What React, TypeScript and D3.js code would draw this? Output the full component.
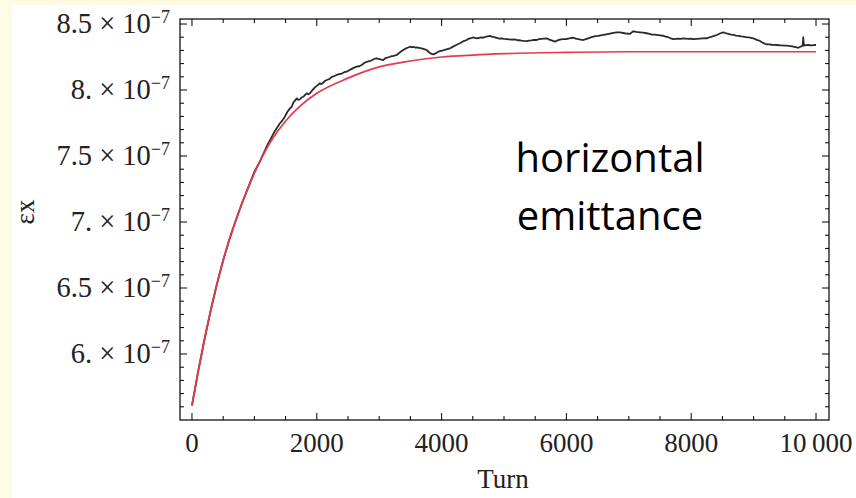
import React from "react";
import * as d3 from "d3";

// Red (fit) curve, emittance in units of 1e-7
const turnsRed = [0, 100, 200, 300, 400, 500, 600, 700, 800, 900, 1000, 1250, 1500, 1750, 2000, 2500, 3000, 3500, 4000, 4500, 5000, 6000, 7000, 8000, 9000, 10000];
const emitRed = [5.61, 5.87, 6.11, 6.33, 6.53, 6.71, 6.87, 7.01, 7.14, 7.26, 7.37, 7.60, 7.765, 7.885, 7.975, 8.09, 8.175, 8.22, 8.25, 8.265, 8.275, 8.285, 8.29, 8.29, 8.29, 8.29];

// Black (simulation) curve, emittance in units of 1e-7
const turnsBlack = [0, 100, 200, 300, 400, 500, 600, 700, 800, 900, 1000, 1100, 1200, 1250, 1330, 1410, 1450, 1490, 1530, 1571, 1600, 1625, 1650, 1678, 1700, 1730, 1760, 1784, 1810, 1840, 1865, 1891, 1930, 1970, 2010, 2051, 2075, 2100, 2130, 2159, 2200, 2240, 2280, 2319, 2360, 2400, 2440, 2479, 2520, 2560, 2600, 2639, 2680, 2720, 2760, 2800, 2840, 2880, 2920, 2960, 2990, 3020, 3066, 3095, 3120, 3150, 3173, 3200, 3230, 3255, 3280, 3305, 3330, 3360, 3386, 3410, 3440, 3465, 3494, 3520, 3550, 3575, 3601, 3640, 3680, 3720, 3761, 3790, 3814, 3840, 3867, 3895, 3920, 3950, 3974, 4010, 4050, 4090, 4135, 4170, 4210, 4250, 4295, 4320, 4350, 4375, 4402, 4430, 4460, 4485, 4508, 4550, 4590, 4630, 4668, 4695, 4720, 4750, 4776, 4800, 4830, 4855, 4883, 4920, 4960, 5000, 5043, 5080, 5120, 5160, 5204, 5240, 5280, 5320, 5364, 5400, 5440, 5480, 5524, 5560, 5600, 5640, 5684, 5715, 5750, 5785, 5817, 5850, 5880, 5915, 5950, 5990, 6030, 6070, 6111, 6150, 6190, 6230, 6271, 6310, 6350, 6390, 6431, 6470, 6510, 6550, 6591, 6640, 6700, 6750, 6806, 6860, 6912, 6960, 7019, 7045, 7072, 7120, 7179, 7230, 7287, 7330, 7370, 7410, 7447, 7500, 7553, 7590, 7630, 7670, 7713, 7750, 7790, 7830, 7873, 7910, 7950, 7990, 8034, 8090, 8140, 8190, 8248, 8290, 8330, 8370, 8409, 8460, 8514, 8560, 8600, 8640, 8675, 8720, 8760, 8800, 8835, 8880, 8920, 8960, 8995, 9025, 9050, 9080, 9103, 9130, 9160, 9185, 9210, 9250, 9290, 9330, 9370, 9410, 9450, 9490, 9530, 9560, 9590, 9615, 9636, 9660, 9680, 9700, 9716, 9750, 9787, 9795, 9805, 9840, 9877, 9910, 9940, 9965, 9984, 10000];
const emitBlack = [5.61, 5.87, 6.11, 6.33, 6.53, 6.71, 6.87, 7.01, 7.14, 7.26, 7.38, 7.47, 7.575, 7.62, 7.69, 7.748, 7.77, 7.80, 7.835, 7.861, 7.875, 7.905, 7.92, 7.937, 7.925, 7.93, 7.945, 7.949, 7.962, 7.975, 7.968, 7.975, 8.0, 8.02, 8.035, 8.051, 8.045, 8.055, 8.068, 8.076, 8.083, 8.10, 8.106, 8.114, 8.12, 8.125, 8.135, 8.139, 8.15, 8.16, 8.17, 8.177, 8.18, 8.19, 8.205, 8.214, 8.218, 8.225, 8.235, 8.240, 8.236, 8.232, 8.227, 8.24, 8.245, 8.248, 8.252, 8.256, 8.258, 8.262, 8.265, 8.275, 8.285, 8.295, 8.303, 8.31, 8.318, 8.322, 8.328, 8.325, 8.326, 8.322, 8.323, 8.32, 8.315, 8.31, 8.303, 8.29, 8.28, 8.274, 8.270, 8.276, 8.282, 8.29, 8.295, 8.298, 8.305, 8.31, 8.316, 8.325, 8.335, 8.345, 8.354, 8.362, 8.37, 8.374, 8.379, 8.388, 8.392, 8.395, 8.399, 8.392, 8.394, 8.398, 8.396, 8.402, 8.405, 8.408, 8.411, 8.404, 8.402, 8.398, 8.396, 8.39, 8.392, 8.388, 8.386, 8.384, 8.382, 8.384, 8.379, 8.377, 8.374, 8.372, 8.371, 8.374, 8.376, 8.38, 8.379, 8.385, 8.388, 8.39, 8.392, 8.384, 8.378, 8.372, 8.366, 8.374, 8.38, 8.383, 8.386, 8.385, 8.39, 8.394, 8.396, 8.39, 8.386, 8.382, 8.379, 8.386, 8.392, 8.398, 8.404, 8.408, 8.41, 8.414, 8.417, 8.422, 8.428, 8.433, 8.437, 8.436, 8.432, 8.428, 8.425, 8.436, 8.445, 8.44, 8.437, 8.434, 8.430, 8.426, 8.42, 8.419, 8.417, 8.414, 8.411, 8.404, 8.40, 8.392, 8.386, 8.388, 8.39, 8.388, 8.392, 8.39, 8.388, 8.39, 8.386, 8.388, 8.39, 8.391, 8.392, 8.398, 8.405, 8.41, 8.417, 8.428, 8.437, 8.43, 8.425, 8.42, 8.417, 8.412, 8.41, 8.406, 8.404, 8.4, 8.398, 8.395, 8.392, 8.385, 8.38, 8.376, 8.371, 8.362, 8.355, 8.35, 8.346, 8.345, 8.343, 8.342, 8.341, 8.339, 8.338, 8.337, 8.336, 8.334, 8.332, 8.33, 8.328, 8.326, 8.325, 8.322, 8.320, 8.328, 8.336, 8.40, 8.336, 8.34, 8.341, 8.339, 8.338, 8.34, 8.341, 8.34];

const xMajor = [0, 2000, 4000, 6000, 8000, 10000];
const xMajorLabels = ["0", "2000", "4000", "6000", "8000", "10\u2009000"];
const yMajor = [6, 6.5, 7, 7.5, 8, 8.5];
const yMajorLabels = ["6.", "6.5", "7.", "7.5", "8.", "8.5"];

const W = 856;
const H = 498;
const frame = { left: 180, right: 829, top: 19, bottom: 420 };

export default function App() {
  const x = d3.scaleLinear().domain([-192, 10208]).range([frame.left, frame.right]);
  const y = d3.scaleLinear().domain([5.5, 8.538]).range([frame.bottom, frame.top]);

  const red = turnsRed.map((t, i) => [t, emitRed[i]] as [number, number]);
  const black = turnsBlack.map((t, i) => [t, emitBlack[i]] as [number, number]);

  const redLine = d3.line<[number, number]>().x(d => x(d[0])).y(d => y(d[1])).curve(d3.curveMonotoneX);
  const blackLine = d3.line<[number, number]>().x(d => x(d[0])).y(d => y(d[1]));

  const xMinor = d3.range(0, 10001, 500).filter(v => v % 2000 !== 0);
  const yMinor = d3.range(56, 86, 1).map(v => v / 10).filter(v => Math.abs(v * 2 - Math.round(v * 2)) > 1e-6);

  const MAJ = 7;
  const MIN = 4;
  const serif = "'Liberation Serif', 'DejaVu Serif', serif";

  return (
    <svg width={W} height={H} style={{ position: "absolute", left: 0, top: 0 }}>
      <rect x={0} y={0} width={W} height={H} fill="#fdfbe4" />
      <rect x={12} y={5} width={W - 12} height={H - 5} fill="#ffffff" />

      {/* frame */}
      <rect x={frame.left} y={frame.top} width={frame.right - frame.left} height={frame.bottom - frame.top} fill="none" stroke="#000" strokeWidth={1.2} />

      {/* x ticks */}
      {xMajor.map(v => (
        <g key={"xM" + v}>
          <line x1={x(v)} x2={x(v)} y1={frame.bottom} y2={frame.bottom - MAJ} stroke="#000" />
          <line x1={x(v)} x2={x(v)} y1={frame.top} y2={frame.top + MAJ} stroke="#000" />
        </g>
      ))}
      {xMinor.map(v => (
        <g key={"xm" + v}>
          <line x1={x(v)} x2={x(v)} y1={frame.bottom} y2={frame.bottom - MIN} stroke="#000" />
          <line x1={x(v)} x2={x(v)} y1={frame.top} y2={frame.top + MIN} stroke="#000" />
        </g>
      ))}
      {/* y ticks */}
      {yMajor.map(v => (
        <g key={"yM" + v}>
          <line x1={frame.left} x2={frame.left + MAJ} y1={y(v)} y2={y(v)} stroke="#000" />
          <line x1={frame.right} x2={frame.right - MAJ} y1={y(v)} y2={y(v)} stroke="#000" />
        </g>
      ))}
      {yMinor.map(v => (
        <g key={"ym" + v}>
          <line x1={frame.left} x2={frame.left + MIN} y1={y(v)} y2={y(v)} stroke="#000" />
          <line x1={frame.right} x2={frame.right - MIN} y1={y(v)} y2={y(v)} stroke="#000" />
        </g>
      ))}

      {/* x tick labels */}
      {xMajor.map((v, i) => (
        <text key={"xl" + v} x={x(v)} y={452} textAnchor="middle" fontFamily={serif} fontSize={27} fill="#222">
          {xMajorLabels[i]}
        </text>
      ))}
      {/* y tick labels */}
      {yMajor.map((v, i) => (
        <text key={"yl" + v} x={170} y={y(v) + 9} textAnchor="end" fontFamily={serif} fontSize={28.5} fill="#222">
          {yMajorLabels[i]} {"\u00d7"} 10
          <tspan dy={-10} fontSize={18}>{"\u22127"}</tspan>
        </text>
      ))}

      {/* axis titles */}
      <text x={503} y={488} textAnchor="middle" fontFamily={serif} fontSize={27} fill="#222">Turn</text>
      <text transform="translate(34,212) rotate(-90)" textAnchor="middle" fontFamily={serif} fontSize={27} fill="#222">{"\u03b5x"}</text>

      {/* curves */}
      <path d={blackLine(black) || ""} fill="none" stroke="#2a2a2a" strokeWidth={1.8} strokeLinejoin="round" />
      <path d={redLine(red) || ""} fill="none" stroke="#e63a4c" strokeWidth={1.7} />

      {/* annotation */}
      <text x={610} y={172} textAnchor="middle" fontFamily="'Open Sans', sans-serif" fontSize={40} fill="#000">horizontal</text>
      <text x={610} y={230} textAnchor="middle" fontFamily="'Open Sans', sans-serif" fontSize={40} fill="#000">emittance</text>
    </svg>
  );
}
